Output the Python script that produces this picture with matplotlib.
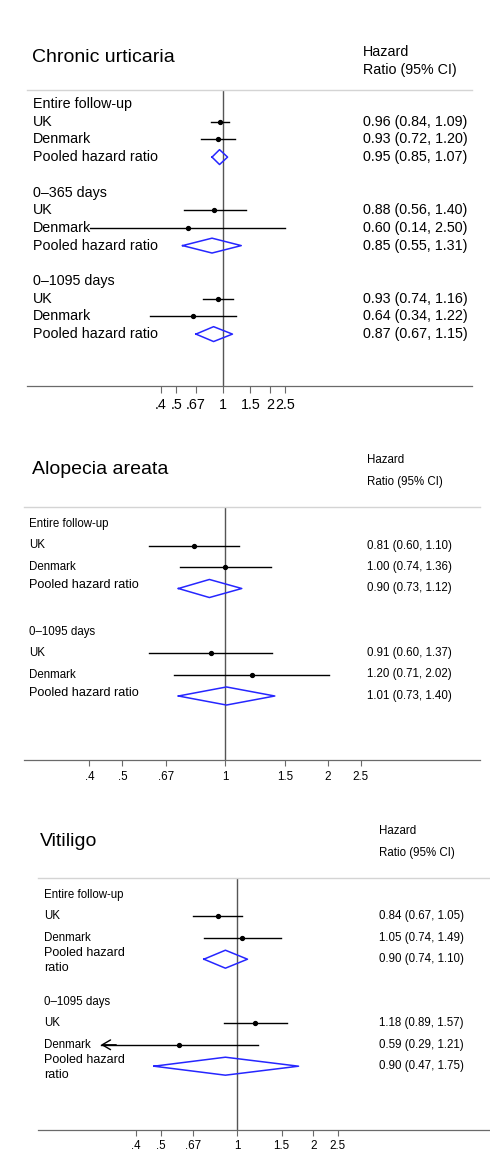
import numpy as np
import matplotlib
matplotlib.use('Agg')
import matplotlib.pyplot as plt
from matplotlib.transforms import blended_transform_factory
from matplotlib.ticker import FixedLocator, FixedFormatter, NullLocator

plt.rcParams['font.family'] = ['Liberation Sans', 'DejaVu Sans']

W, H = 490, 1154

# ---------------- data ----------------
tick_vals = [0.4, 0.5, 0.67, 1, 1.5, 2, 2.5]
tick_labels = ['.4', '.5', '.67', '1', '1.5', '2', '2.5']

# Chronic urticaria
cu_groups = ['Entire follow-up', '0\u2013365 days', '0\u20131095 days']
cu_uk = [0.96, 0.88, 0.93]
cu_uk_lo = [0.84, 0.56, 0.74]
cu_uk_hi = [1.09, 1.40, 1.16]
cu_dk = [0.93, 0.60, 0.64]
cu_dk_lo = [0.72, 0.14, 0.34]
cu_dk_hi = [1.20, 2.50, 1.22]
cu_pool = [0.95, 0.85, 0.87]
cu_pool_lo = [0.85, 0.55, 0.67]
cu_pool_hi = [1.07, 1.31, 1.15]

# Alopecia areata
aa_groups = ['Entire follow-up', '0\u20131095 days']
aa_uk = [0.81, 0.91]
aa_uk_lo = [0.60, 0.60]
aa_uk_hi = [1.10, 1.37]
aa_dk = [1.00, 1.20]
aa_dk_lo = [0.74, 0.71]
aa_dk_hi = [1.36, 2.02]
aa_pool = [0.90, 1.01]
aa_pool_lo = [0.73, 0.73]
aa_pool_hi = [1.12, 1.40]

# Vitiligo
vi_groups = ['Entire follow-up', '0\u20131095 days']
vi_uk = [0.84, 1.18]
vi_uk_lo = [0.67, 0.89]
vi_uk_hi = [1.05, 1.57]
vi_dk = [1.05, 0.59]
vi_dk_lo = [0.74, 0.29]
vi_dk_hi = [1.49, 1.21]
vi_pool = [0.90, 0.90]
vi_pool_lo = [0.74, 0.47]
vi_pool_hi = [1.10, 1.75]

fig = plt.figure(figsize=(W / 100, H / 100), dpi=100)
fig.patch.set_facecolor('white')


def fx(x):
    return x / W


def fy(y):
    return 1 - y / H


def fmt(hr, lo, hi):
    return f'{hr:.2f} ({lo:.2f}, {hi:.2f})'


def draw_panel(title, groups, uk, uk_lo, uk_hi, dk, dk_lo, dk_hi, pool, pool_lo, pool_hi,
               lay, pooled_label, arrow_below=None):
    # lay: layout in pixels
    left, right, top, bottom = lay['left'], lay['right'], lay['top'], lay['bottom']
    ax = fig.add_axes([fx(left), fy(bottom), fx(right - left), (bottom - top) / H])
    ax.set_xscale('log')
    xmin = np.exp((left - lay['x1']) / lay['scale'])
    xmax = np.exp((right - lay['x1']) / lay['scale'])
    ax.set_xlim(xmin, xmax)
    ax.set_ylim((bottom - lay['row0']) / lay['dy'], (top - lay['row0']) / lay['dy'])
    ax.set_facecolor('none')

    for s in ['left', 'right']:
        ax.spines[s].set_visible(False)
    ax.spines['top'].set_color('#d4d4d4')
    ax.spines['top'].set_linewidth(1.0)
    ax.spines['bottom'].set_color('#6a6a6a')
    ax.spines['bottom'].set_linewidth(0.9)
    ax.yaxis.set_visible(False)
    ax.xaxis.set_major_locator(FixedLocator(tick_vals))
    ax.xaxis.set_major_formatter(FixedFormatter(tick_labels))
    ax.xaxis.set_minor_locator(NullLocator())
    ax.tick_params(axis='x', direction='out', length=lay['ticklen'], width=0.8,
                   color='#6a6a6a', pad=lay['pad'], labelsize=lay['fs_tick'])

    ax.axvline(1, color='#555555', lw=1.0, zorder=1)

    tr = blended_transform_factory(fig.transFigure, ax.transData)
    lx = fx(lay['label_x'])
    vx = fx(lay['val_x'])

    row = 0
    for g in range(len(groups)):
        ax.text(lx, row, groups[g], transform=tr, ha='left', va='center',
                fontsize=lay['fs_row'])
        row += 1
        for name, hr, lo, hi in [('UK', uk[g], uk_lo[g], uk_hi[g]),
                                 ('Denmark', dk[g], dk_lo[g], dk_hi[g])]:
            ax.text(lx, row, name, transform=tr, ha='left', va='center',
                    fontsize=lay['fs_row'])
            ax.plot([lo, hi], [row, row], color='black', lw=1.0, zorder=2)
            if arrow_below is not None and lo < arrow_below:
                # CI runs off the left of the plotted range
                ax.annotate('', xy=(lo, row), xytext=(lo * 1.15, row),
                            arrowprops=dict(arrowstyle='->,head_length=0.6,head_width=0.35',
                                            color='black', lw=1.0, shrinkA=0, shrinkB=0))
            ax.plot([hr], [row], 'o', color='black', ms=2.8, zorder=3)
            ax.text(vx, row, fmt(hr, lo, hi), transform=tr, ha='left', va='center',
                    fontsize=lay['fs_row'])
            row += 1
        ax.text(lx, row + lay['pool_off'], pooled_label, transform=tr, ha='left', va='center',
                fontsize=lay['fs_pool'], linespacing=1.3)
        h = 0.42
        ax.plot([pool_lo[g], pool[g], pool_hi[g], pool[g], pool_lo[g]],
                [row, row - h, row, row + h, row], color='#2626ff', lw=1.1, zorder=3)
        ax.text(vx, row, fmt(pool[g], pool_lo[g], pool_hi[g]), transform=tr, ha='left',
                va='center', fontsize=lay['fs_row'])
        row += 2

    fig.text(fx(lay['title_x']), fy(lay['title_y']), title, ha='left', va='center',
             fontsize=lay['fs_title'])
    fig.text(vx, fy(lay['hz_y1']), 'Hazard', ha='left', va='center', fontsize=lay['fs_hz'])
    fig.text(vx, fy(lay['hz_y2']), 'Ratio (95% CI)', ha='left', va='center',
             fontsize=lay['fs_hz'])
    return ax


lay1 = dict(left=27, right=472, top=90, bottom=386, row0=104, dy=17.7, x1=223, scale=67.6,
            ticklen=5, pad=3.5, fs_tick=10.3, fs_row=10.3, fs_pool=10.3, pool_off=0,
            label_x=33, val_x=363, title_x=32, title_y=58, fs_title=14,
            hz_y1=52, hz_y2=70, fs_hz=10.3)
lay2 = dict(left=24, right=480, top=507, bottom=760, row0=524, dy=21.5, x1=225, scale=148,
            ticklen=4.5, pad=3.5, fs_tick=8.4, fs_row=8.3, fs_pool=9.1, pool_off=-0.15,
            label_x=29, val_x=367, title_x=32, title_y=470, fs_title=14,
            hz_y1=460, hz_y2=482, fs_hz=8.3)
lay3 = dict(left=38, right=490, top=878, bottom=1130, row0=895, dy=21.4, x1=237, scale=110,
            ticklen=4.5, pad=3.0, fs_tick=8.4, fs_row=8.3, fs_pool=9.0, pool_off=0.05,
            label_x=44, val_x=379, title_x=40, title_y=842, fs_title=14,
            hz_y1=831, hz_y2=853, fs_hz=8.3)

draw_panel('Chronic urticaria', cu_groups, cu_uk, cu_uk_lo, cu_uk_hi, cu_dk, cu_dk_lo, cu_dk_hi,
           cu_pool, cu_pool_lo, cu_pool_hi, lay1, 'Pooled hazard ratio')
draw_panel('Alopecia areata', aa_groups, aa_uk, aa_uk_lo, aa_uk_hi, aa_dk, aa_dk_lo, aa_dk_hi,
           aa_pool, aa_pool_lo, aa_pool_hi, lay2, 'Pooled hazard ratio')
draw_panel('Vitiligo', vi_groups, vi_uk, vi_uk_lo, vi_uk_hi, vi_dk, vi_dk_lo, vi_dk_hi,
           vi_pool, vi_pool_lo, vi_pool_hi, lay3, 'Pooled hazard\nratio', arrow_below=0.3)

fig.savefig('out.png', dpi=100, facecolor='white')
